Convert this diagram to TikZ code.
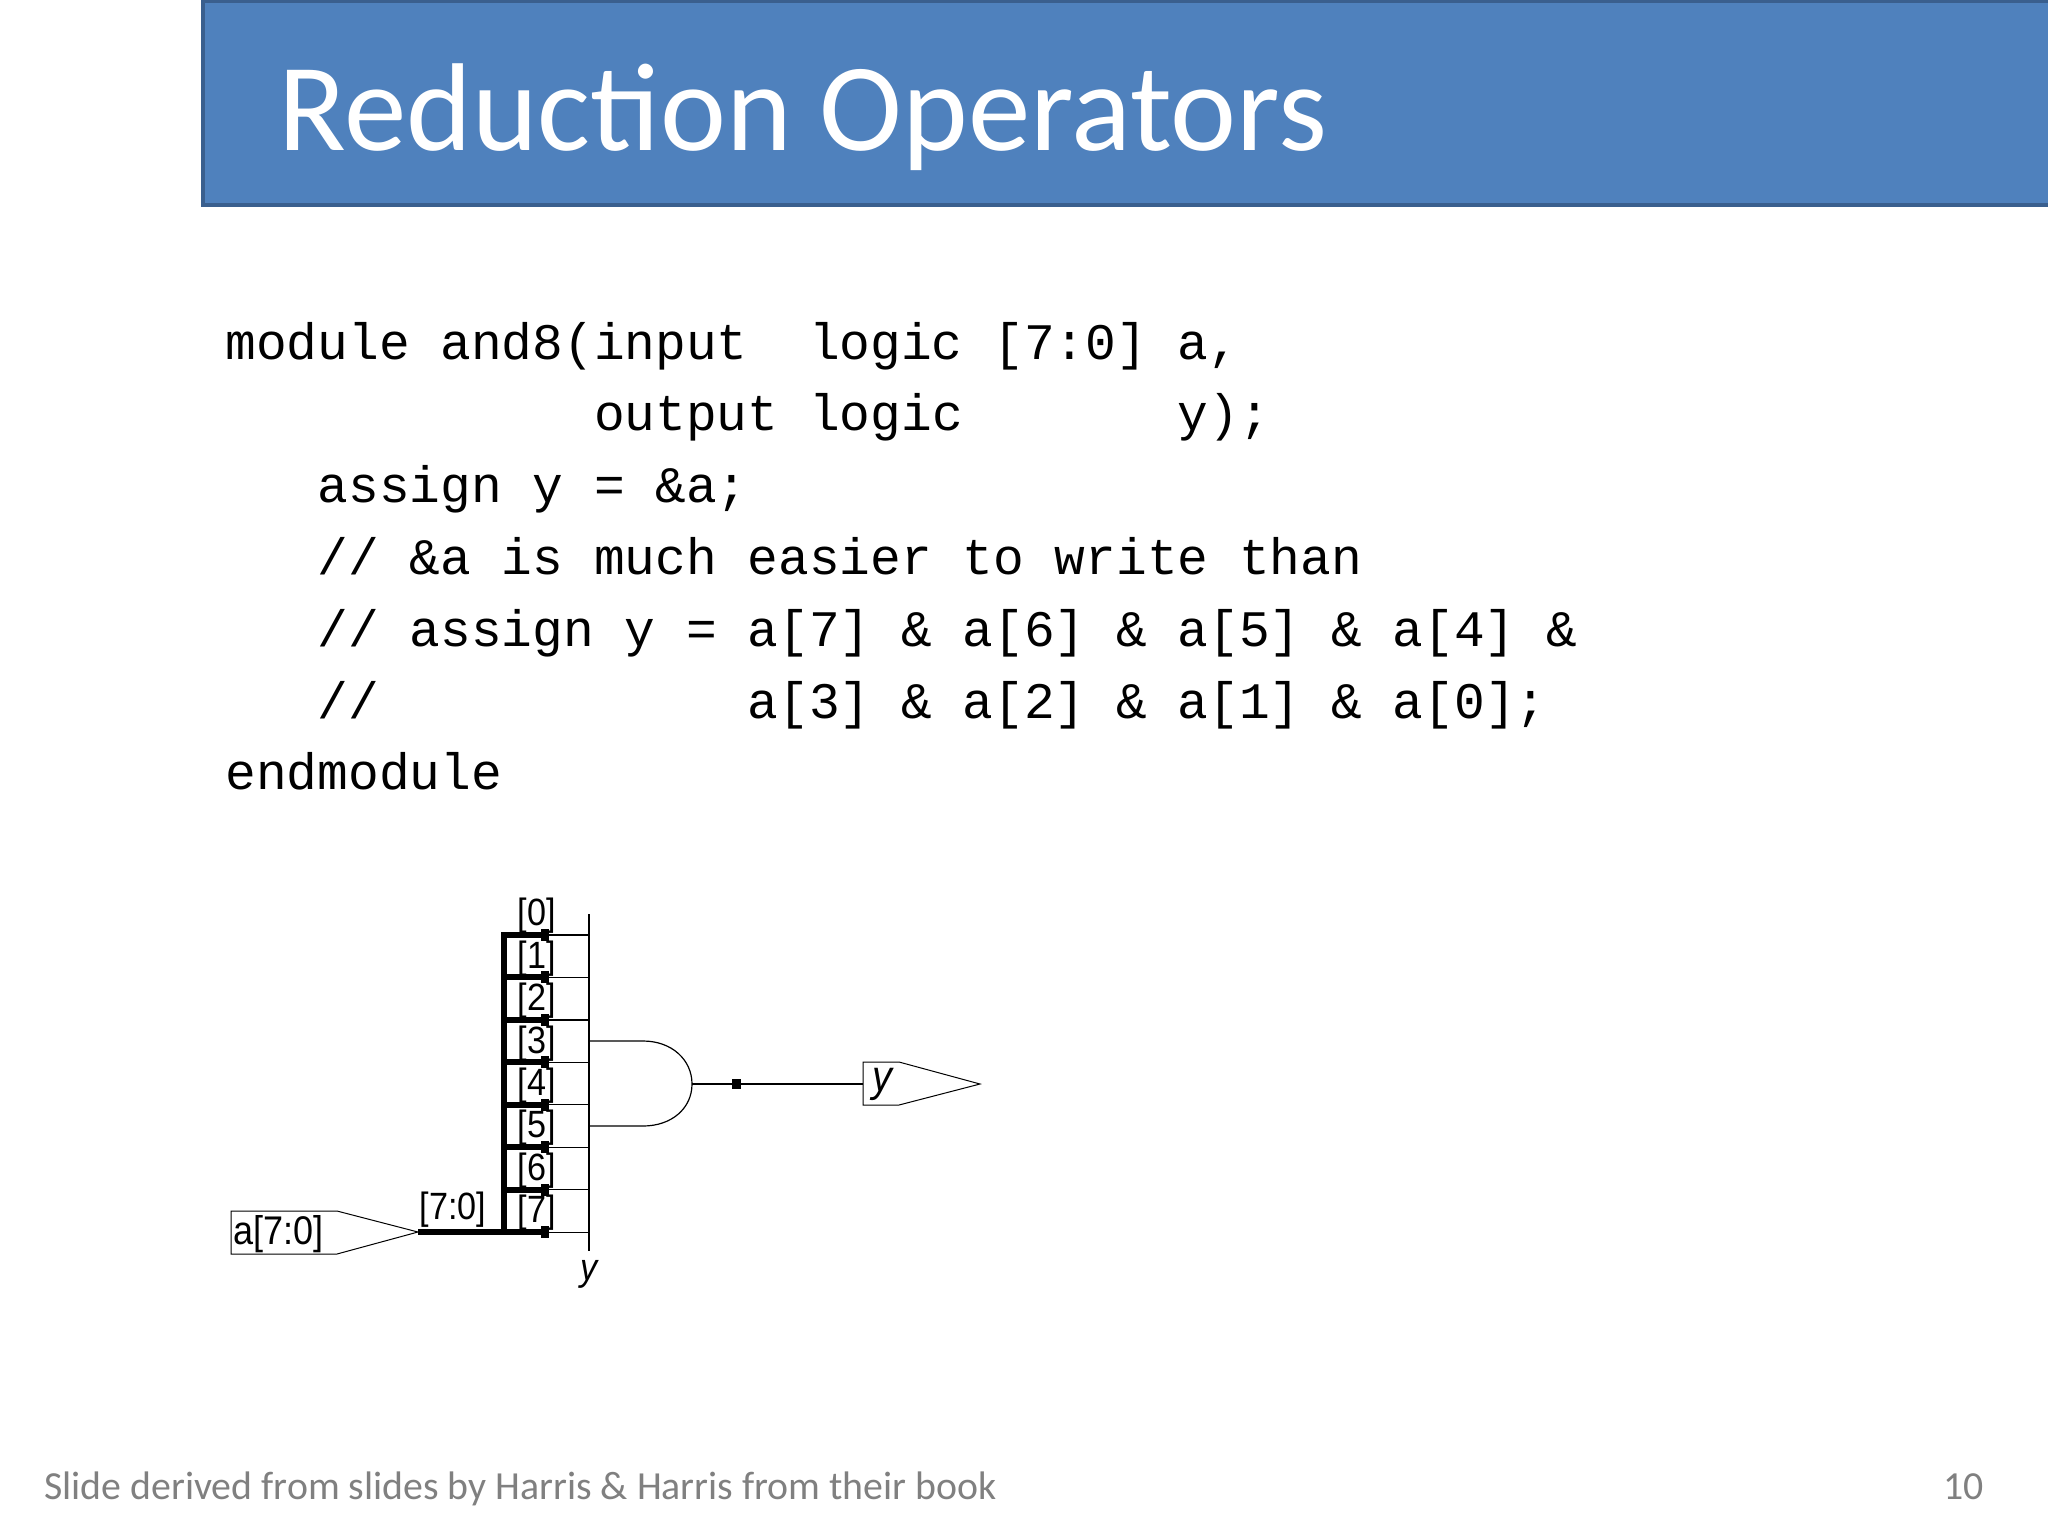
\documentclass[tikz,border=0pt]{standalone}
\usepackage{fontspec}
\setmainfont{Carlito}
\setmonofont{Liberation Mono}
\newfontfamily\cirfont[FakeStretch=0.9]{Liberation Sans}
\definecolor{titleblue}{HTML}{4F81BD}
\definecolor{titleedge}{HTML}{3A5F8E}
\definecolor{footgray}{HTML}{808080}
\tikzset{
  codeline/.style={anchor=base west,inner sep=0pt,font=\fontsize{25.6pt}{30pt}\ttfamily},
  lbl/.style={inner sep=0pt,font=\fontsize{19pt}{21pt}\cirfont},
  bus/.style={line width=3pt},
  wire/.style={line width=0.6pt},
  port/.style={draw,line width=0.5pt,fill=white},
}
\begin{document}
\begin{tikzpicture}[x=0.5pt,y=-0.5pt]
\useasboundingbox (0,0) rectangle (2048,1536);
\fill[white] (0,0) rectangle (2048,1536);
% title
\draw[fill=titleblue,draw=titleedge,line width=2pt] (203,1) rectangle (2052,205);
\node[anchor=base west,inner sep=0pt,text=white,font=\fontsize{62.5pt}{70pt}\selectfont] (title) at (278,150) {Reduction Operators};
% code
\foreach \t [count=\i] in {
 {module~and8(input~~logic~[7:0]~a,},
 {~~~~~~~~~~~~output~logic~~~~~~~y);},
 {~~~assign~y~=~\&a;},
 {~~~//~\&a~is~much~easier~to~write~than},
 {~~~//~assign~y~=~a[7]~\&~a[6]~\&~a[5]~\&~a[4]~\&},
 {~~~//~~~~~~~~~~~~a[3]~\&~a[2]~\&~a[1]~\&~a[0];},
 {endmodule}}
 \node[codeline] (code\i) at (225,{359+71.8*(\i-1)}) {\t};
% footer
\node[anchor=base west,inner sep=0pt,text=footgray,font=\fontsize{19.9pt}{22pt}\selectfont] (foot) at (44,1499) {Slide derived from slides by Harris \& Harris from their book};
\node[anchor=base east,inner sep=0pt,text=footgray,font=\fontsize{19.9pt}{22pt}\selectfont] (pnum) at (1984,1499) {10};
% circuit
\coordinate (vtop) at (589,914);
\coordinate (vbot) at (589,1251);
\draw[wire] (vtop) -- (vbot);
\node[lbl,font=\fontsize{19pt}{21pt}\cirfont\itshape] (ylab) at (589,1274) {y};
\coordinate (bustop) at (504,935);
\coordinate (busbot) at (504,1232);
\draw[bus] (bustop) -- (busbot);
\foreach \k in {0,...,7}{
  \coordinate (r\k) at (504,{935+42.45*\k});
  \coordinate (m\k) at (549,{935+42.45*\k});
  \coordinate (e\k) at (589,{935+42.45*\k});
  \draw[bus] ([xshift=-1.5pt]r\k) -- (m\k);
  \fill ([xshift=-4pt,yshift=3pt]m\k) rectangle ([yshift=-3pt]m\k);
  \draw[wire] (m\k) -- (e\k);
  \node[lbl,anchor=south] (b\k) at (537,{935+42.45*\k-1}) {[\k]};
}
% input port
\draw[port] (231,1211) -- (337,1211) -- (418,1232) -- (337,1254) -- (231,1254) -- cycle;
\node[lbl,anchor=west,font=\fontsize{20pt}{22pt}\cirfont] (ain) at (233,1234) {a[7:0]};
\coordinate (ainpt) at (418,1232);
\draw[bus] (ainpt) -- ([xshift=1.5pt]busbot);
\node[lbl,anchor=south] (buslbl) at (453,1228) {[7:0]};
% AND gate
\coordinate (gout) at (692,1084);
\draw[wire] (589,1041) -- (643,1041) .. controls (672,1041) and (692,1060) .. (gout)
  .. controls (692,1108) and (672,1126) .. (643,1126) -- (589,1126);
% output
\coordinate (oport) at (863,1084);
\draw[wire] (gout) -- (oport);
\fill (732,1079) rectangle (741,1089);
\draw[port] (863,1062) -- (899,1062) -- (980,1084) -- (899,1105) -- (863,1105) -- cycle;
\node[lbl,anchor=west,font=\fontsize{22pt}{24pt}\cirfont\itshape] (yout) at (872,1084) {y};
\end{tikzpicture}
\end{document}
